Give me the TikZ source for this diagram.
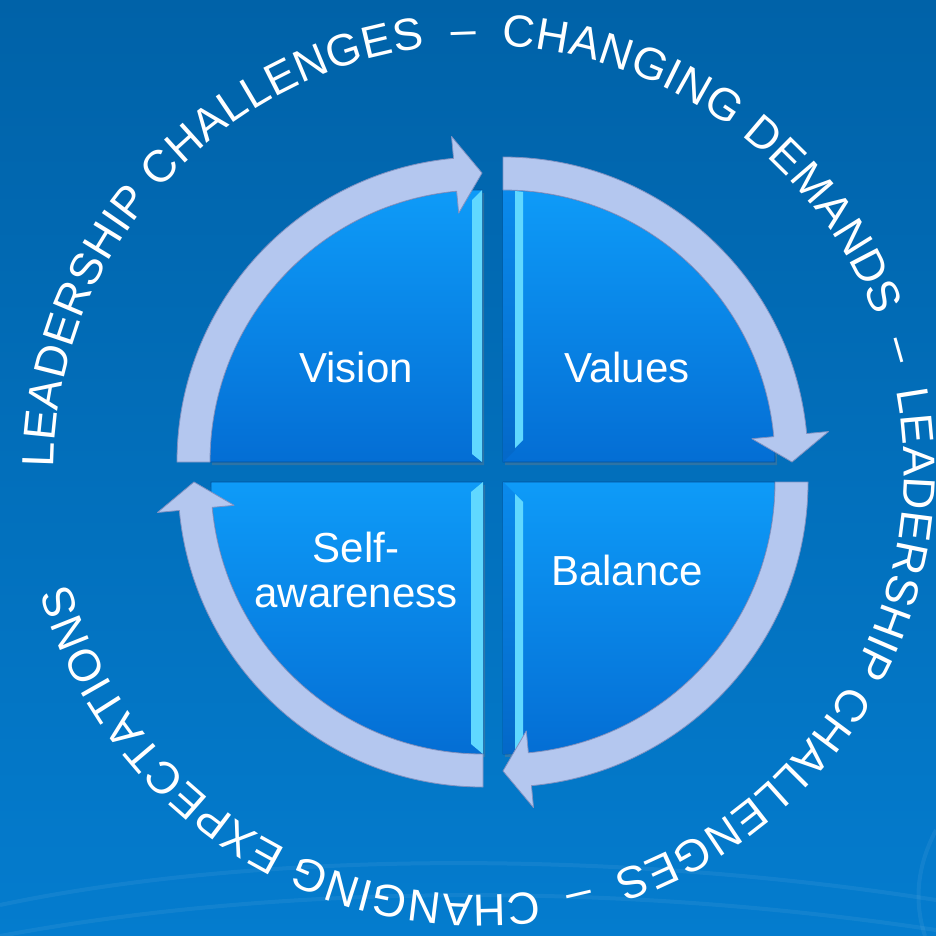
\documentclass[tikz,border=0pt]{standalone}
\usepackage{fontspec}
\setmainfont{Liberation Sans}
\usetikzlibrary{decorations.text,shadows}

\definecolor{bgtop}{RGB}{0,98,168}
\definecolor{bgbot}{RGB}{4,124,206}
\definecolor{facetop}{RGB}{14,155,248}
\definecolor{facebot}{RGB}{4,110,212}
\definecolor{arrowfill}{RGB}{180,199,239}
\definecolor{arrowedge}{RGB}{128,146,194}
\definecolor{glint}{RGB}{96,216,255}
\definecolor{rimtop}{RGB}{10,138,236}
\definecolor{rimbot}{RGB}{4,104,200}
\definecolor{basedark}{RGB}{0,80,156}

\tikzset{
  face/.style={top color=facetop, bottom color=facebot, draw=basedark, line width=0.6,
    drop shadow={opacity=0.35, shadow xshift=2pt, shadow yshift=-3pt}},
  cyclearrow/.style={fill=arrowfill, draw=arrowedge, line width=0.8, line join=round},
  glintstrip/.style={fill=glint},
  rimstrip/.style={top color=rimtop, bottom color=rimbot},
  quadlabel/.style={text=white, font=\fontsize{42}{45}\selectfont, inner sep=0pt},
  swirl/.style={draw=white, opacity=0.06, line width=4pt}
}

\begin{document}
\begin{tikzpicture}[x=1pt,y=1pt]
  \useasboundingbox (0,0) rectangle (936,-936);
  % backdrop
  \shade[top color=bgtop, bottom color=bgbot] (0,0) rectangle (936,-936);
  \path[swirl] (0,-905) .. controls (260,-850) and (620,-850) .. (936,-900);
  \path[swirl] (0,-936) .. controls (300,-880) and (640,-885) .. (936,-930);
  \path[swirl] (936,-830) .. controls (915,-870) and (915,-905) .. (925,-936);

  % Vision quadrant
  \begin{scope}[shift={(482,-462)}]
    \shade[face] (0,0) -- (180:272) arc[start angle=180, end angle=90, radius=272] -- cycle;
    \fill[glintstrip] (0,0) -- (-10,8) -- (-10,262) -- (0,272) -- cycle;
    \filldraw[cyclearrow] (180:305) arc[start angle=180, end angle=95.35, radius=305]
      -- (95.35:327) -- (90:289) -- (95.35:250) -- (95.35:272)
      arc[start angle=95.35, end angle=180, radius=272] -- cycle;
  \end{scope}

  % Values quadrant
  \begin{scope}[shift={(503,-462)}]
    \shade[face] (0,0) -- (90:272) arc[start angle=90, end angle=0, radius=272] -- cycle;
    \shade[rimstrip] (0,0) -- (0,272) -- (12,271) -- (12,12) -- cycle;
    \fill[glintstrip] (12,14) -- (12,271) -- (20,270) -- (20,22) -- cycle;
    \filldraw[cyclearrow] (90:305) arc[start angle=90, end angle=5.35, radius=305]
      -- (5.35:327) -- (0:289) -- (5.35:250) -- (5.35:272)
      arc[start angle=5.35, end angle=90, radius=272] -- cycle;
  \end{scope}

  % Balance quadrant
  \begin{scope}[shift={(503,-482)}]
    \shade[face] (0,0) -- (0:272) arc[start angle=0, end angle=-90, radius=272] -- cycle;
    \shade[rimstrip] (0,0) -- (0,-272) -- (12,-271) -- (12,-12) -- cycle;
    \fill[glintstrip] (12,-12) -- (20,-20) -- (20,-262) -- (12,-270) -- cycle;
    \filldraw[cyclearrow] (0:305) arc[start angle=0, end angle=-84.65, radius=305]
      -- (-84.65:327) -- (-90:289) -- (-84.65:250) -- (-84.65:272)
      arc[start angle=-84.65, end angle=0, radius=272] -- cycle;
  \end{scope}

  % Self-awareness quadrant
  \begin{scope}[shift={(483,-482)}]
    \shade[face] (0,0) -- (-90:272) arc[start angle=-90, end angle=-180, radius=272] -- cycle;
    \fill[glintstrip] (0,0) -- (-12,-10) -- (-12,-262) -- (0,-272) -- cycle;
    \filldraw[cyclearrow] (-90:305) arc[start angle=-90, end angle=-174.65, radius=305]
      -- (-174.65:327) -- (-180:289) -- (-174.65:250) -- (-174.65:272)
      arc[start angle=-174.65, end angle=-90, radius=272] -- cycle;
  \end{scope}

  % quadrant labels
  \node[quadlabel, anchor=base] (vision) at (356,-382) {Vision};
  \node[quadlabel, anchor=base] (values) at (627,-382) {Values};
  \node[quadlabel, anchor=base] (balance) at (627,-585) {Balance};
  \node[quadlabel, anchor=base] (selfone) at (356,-562) {Self-};
  \node[quadlabel, anchor=base] (selftwo) at (356,-607) {awareness};

  % lettering around the ring
  \path[decorate, decoration={text along path, text align=fit to path,
      text={|\fontsize{45}{50}\selectfont\color{white}|LEADERSHIP CHALLENGES{\ \ }–{\ \ }CHANGING DEMANDS{\ \ }–{\ \ }LEADERSHIP CHALLENGES{\ \ }–{\ \ }CHANGING EXPECTATIONS}}]
    (479,-470) ++(179.6:425) arc[start angle=179.6, end angle=-164.5, radius=425];
\end{tikzpicture}
\end{document}
